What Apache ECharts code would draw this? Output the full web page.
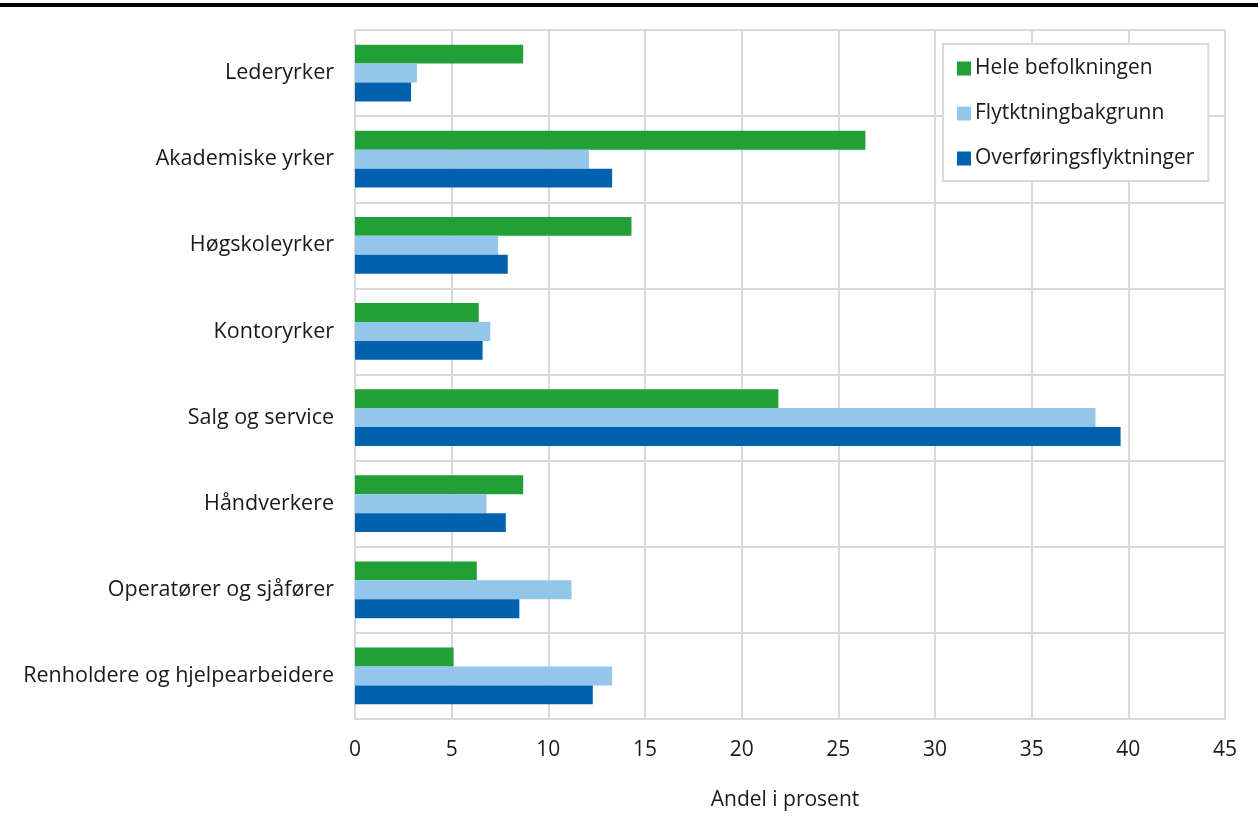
<!DOCTYPE html>
<html><head><meta charset="utf-8">
<script src="https://cdn.jsdelivr.net/npm/echarts@6/dist/echarts.min.js"></script>
<style>html,body{margin:0;padding:0;background:#fff}#c{width:1258px;height:821px}</style>
</head><body><div id="c"></div>
<script>
const categories = ["Lederyrker","Akademiske yrker","Høgskoleyrker","Kontoryrker","Salg og service","Håndverkere","Operatører og sjåfører","Renholdere og hjelpearbeidere"];
const seriesNames = ["Hele befolkningen","Flytktningbakgrunn","Overføringsflyktninger"];
const heleBefolkningen = [8.7, 26.4, 14.3, 6.4, 21.9, 8.7, 6.3, 5.1];
const flyktningbakgrunn = [3.2, 12.1, 7.4, 7.0, 38.3, 6.8, 11.2, 13.3];
const overforingsflyktninger = [2.9, 13.3, 7.9, 6.6, 39.6, 7.8, 8.5, 12.3];
const xTicks = [0,5,10,15,20,25,30,35,40,45];
const colors = ["#21a038","#94c6eb","#0062ae"];
const font = "'Open Sans', 'Noto Sans', sans-serif";
const chart = echarts.init(document.getElementById('c'));
const dataSets = [heleBefolkningen, flyktningbakgrunn, overforingsflyktninger];
chart.setOption({
  animation:false,
  textStyle:{fontFamily:font,color:'#1a1a1a'},
  graphic:[{type:'rect',shape:{x:0,y:3,width:1258,height:4},style:{fill:'#000'}}],
  grid:{left:355,right:33,top:30,bottom:102,containLabel:false,outerBoundsMode:'none'},
  legend:{
    orient:'vertical', left:943, top:44,
    data:seriesNames, itemWidth:14, itemHeight:14, itemGap:24,
    padding:[14,14,12,14],
    borderColor:'#d9d9d9', borderWidth:2, backgroundColor:'#fff',
    icon:'rect',
    textStyle:{fontFamily:font,fontSize:21,color:'#1a1a1a',padding:[0,0,0,-1]}
  },
  xAxis:{
    type:'value', min:xTicks[0], max:xTicks[xTicks.length-1], interval:5,
    name:'Andel i prosent', nameLocation:'middle', nameGap:71,
    nameTextStyle:{fontFamily:font,fontSize:21,color:'#1a1a1a',padding:[0,10,0,0]},
    axisLine:{show:true,lineStyle:{color:'#d9d9d9',width:2}},
    axisTick:{show:false},
    axisLabel:{fontFamily:font,fontSize:21,color:'#1a1a1a',margin:21},
    splitLine:{show:true,lineStyle:{color:'#d9d9d9',width:2}}
  },
  yAxis:{
    type:'category', data:categories, inverse:true,
    axisLine:{show:true,lineStyle:{color:'#d9d9d9',width:2}},
    axisTick:{show:false},
    axisLabel:{fontFamily:font,fontSize:21.5,color:'#1a1a1a',margin:21},
    splitLine:{show:true,lineStyle:{color:'#d9d9d9',width:2}}
  },
  series: seriesNames.map((n,i)=>({
    name:n, type:'bar', data:dataSets[i], barGap:'0%', barCategoryGap:'34%',
    itemStyle:{color:colors[i]}
  }))
});
</script></body></html>
